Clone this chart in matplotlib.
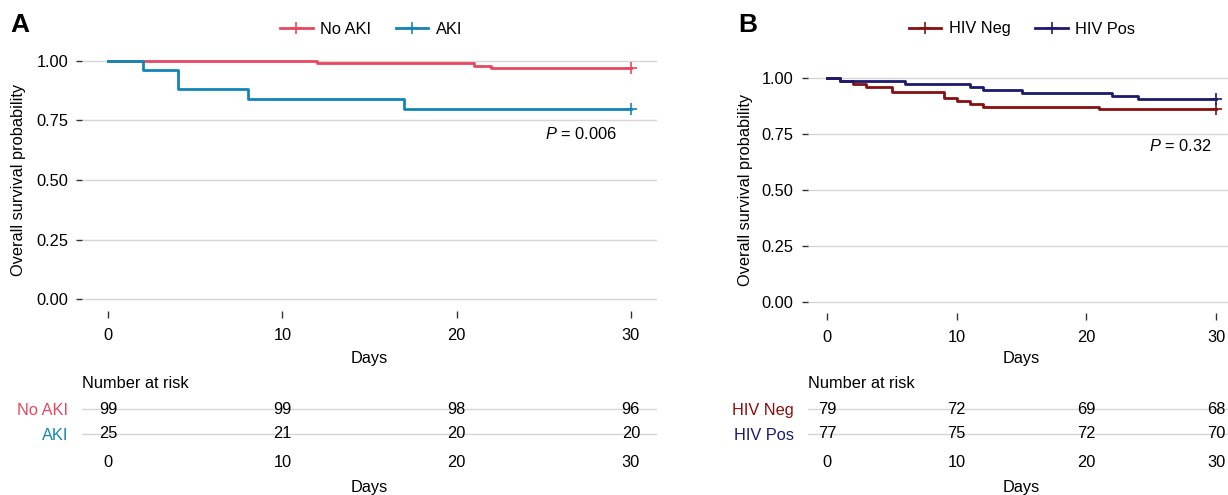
import matplotlib.pyplot as plt
from matplotlib.lines import Line2D

plt.rcParams['font.family'] = ['Liberation Sans', 'DejaVu Sans']
plt.rcParams['mathtext.fontset'] = 'custom'
plt.rcParams['mathtext.it'] = 'Liberation Sans:italic'
plt.rcParams['mathtext.rm'] = 'Liberation Sans'

# panel A: AKI
no_aki_days = [0, 12, 21, 22, 30]
no_aki_surv = [1.0, 0.990, 0.980, 0.970, 0.970]
aki_days = [0, 2, 4, 8, 17, 30]
aki_surv = [1.0, 0.96, 0.88, 0.84, 0.80, 0.80]
no_aki_risk = [99, 99, 98, 96]
aki_risk = [25, 21, 20, 20]

# panel B: HIV
hiv_neg_days = [0, 1, 2, 3, 5, 9, 10, 11, 12, 21, 30]
hiv_neg_surv = [1.0, 0.987, 0.975, 0.962, 0.937, 0.911, 0.899, 0.886, 0.873, 0.861, 0.861]
hiv_pos_days = [0, 1, 6, 11, 12, 15, 22, 24, 30]
hiv_pos_surv = [1.0, 0.987, 0.974, 0.961, 0.948, 0.935, 0.922, 0.909, 0.909]
hiv_neg_risk = [79, 72, 69, 68]
hiv_pos_risk = [77, 75, 72, 70]

risk_days = [0, 10, 20, 30]
y_ticks = [0.0, 0.25, 0.50, 0.75, 1.00]

C_NOAKI = "#E8485F"
C_AKI = "#1385B5"
C_NEG = "#870F0F"
C_POS = "#1C1A6C"
GRID = "#d6d6d6"
TICK = "#333333"
FS = 11.8

W, H = 1228, 495
fig = plt.figure(figsize=(W / 100, H / 100), dpi=100)


def box(left, right, top, bottom):
    return [left / W, 1 - bottom / H, (right - left) / W, (bottom - top) / H]


def survival_panel(ax, curves, pval, ptxt_xy, leg_center):
    for days, surv, color, name in curves:
        ax.step(days, surv, where="post", color=color, lw=2.0, zorder=3)
        ax.plot(days[-1], surv[-1], marker="+", ms=9, mew=1.2, color=color, zorder=4)
    ax.set_xlim(-1.5, 31.5)
    ax.set_ylim(-0.05, 1.05)
    ax.set_xticks(risk_days)
    ax.set_yticks(y_ticks)
    ax.set_yticklabels([f"{v:.2f}" for v in y_ticks])
    for s in ax.spines.values():
        s.set_visible(False)
    ax.grid(axis="y", color=GRID, lw=1.0)
    ax.set_axisbelow(True)
    ax.tick_params(axis="x", length=4.7, width=1, color=TICK, pad=7.5, labelsize=FS)
    ax.tick_params(axis="y", length=4.5, width=1, color=TICK, pad=5.5, labelsize=FS)
    ax.set_ylabel("Overall survival probability", fontsize=FS)
    ax.set_xlabel("Days", fontsize=FS)
    ax.text(ptxt_xy[0], ptxt_xy[1], "$P$ = " + pval, ha="right", va="center", fontsize=FS)
    handles = [Line2D([], [], color=c, lw=2.0, marker="+", ms=9, mew=1.2) for _, _, c, _ in curves]
    labels = [n for _, _, _, n in curves]
    fig.legend(handles, labels, loc="center", bbox_to_anchor=(leg_center[0] / W, 1 - leg_center[1] / H),
               ncol=2, frameon=False, fontsize=FS, handlelength=2.0, handletextpad=0.45,
               columnspacing=1.5, borderpad=0)


def risk_table(ax, names, counts, colors):
    n = len(names)
    for i, (row, color) in enumerate(zip(counts, colors)):
        ypos = n - 1 - i
        for d, c in zip(risk_days, row):
            ax.text(d, ypos, str(c), ha="center", va="center", fontsize=FS)
    ax.set_xlim(-1.5, 31.5)
    ax.set_ylim(-0.5, n - 0.5)
    ax.set_yticks([n - 1 - i for i in range(n)])
    ax.set_yticklabels(names)
    for lab, color in zip(ax.get_yticklabels(), colors):
        lab.set_color(color)
    ax.set_xticks(risk_days)
    for s in ax.spines.values():
        s.set_visible(False)
    ax.grid(axis="y", color=GRID, lw=1.0)
    ax.set_axisbelow(True)
    ax.tick_params(axis="y", length=0, pad=10, labelsize=FS)
    ax.tick_params(axis="x", length=0, pad=6.3, labelsize=FS)
    ax.set_xlabel("Days", fontsize=FS)
    ax.xaxis.set_label_coords(0.5, -0.67)
    ax.annotate("Number at risk", xy=(0, 1), xycoords="axes fraction", xytext=(0, 13.5),
                textcoords="offset pixels", ha="left", va="center", fontsize=FS)


# panel A
axA = fig.add_axes(box(82, 657, 49, 311))
survival_panel(axA, [(no_aki_days, no_aki_surv, C_NOAKI, "No AKI"),
                     (aki_days, aki_surv, C_AKI, "AKI")],
               "0.006", (29.2, 0.693), (371, 29))
axA.yaxis.set_label_coords(-0.0974, 0.5)
axA.xaxis.set_label_coords(0.5, -0.152)

rtA = fig.add_axes(box(82, 657, 396.5, 446.5))
risk_table(rtA, ["No AKI", "AKI"], [no_aki_risk, aki_risk], [C_NOAKI, C_AKI])

# panel B
axB = fig.add_axes(box(807.5, 1235.5, 67, 313))
survival_panel(axB, [(hiv_neg_days, hiv_neg_surv, C_NEG, "HIV Neg"),
                     (hiv_pos_days, hiv_pos_surv, C_POS, "HIV Pos")],
               "0.32", (29.7, 0.696), (1022, 29))
axB.yaxis.set_label_coords(-0.127, 0.5)
axB.xaxis.set_label_coords(0.5, -0.155)

rtB = fig.add_axes(box(807.5, 1235.5, 396.5, 446.5))
risk_table(rtB, ["HIV Neg", "HIV Pos"], [hiv_neg_risk, hiv_pos_risk], [C_NEG, C_POS])

fig.text(10 / W, 1 - 25 / H, "A", fontsize=19, fontweight="bold", va="center", ha="left")
fig.text(738 / W, 1 - 25 / H, "B", fontsize=19, fontweight="bold", va="center", ha="left")

fig.savefig("out.png", dpi=100)
